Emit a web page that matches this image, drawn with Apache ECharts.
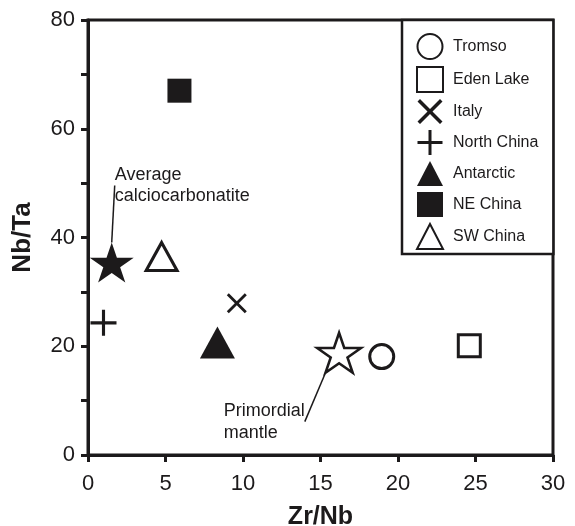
<!DOCTYPE html>
<html>
<head>
<meta charset="utf-8">
<script src="https://cdn.jsdelivr.net/npm/echarts@6/dist/echarts.min.js"></script>
<style>html,body{margin:0;padding:0;background:#fff}#c{width:575px;height:526px}</style>
</head>
<body>
<div id="c"></div>
<script>
// Data (Zr/Nb, Nb/Ta)
const tromso = [[18.95, 18.1]];
const edenLake = [[24.6, 20.1]];
const italy = [[9.6, 27.9]];
const northChina = [[1.0, 24.3]];
const antarctic = [[8.35, 20.7]];
const neChina = [[5.9, 67.0]];
const swChina = [[4.75, 36.5]];
const avgCalciocarbonatite = [[1.53, 35.4]];
const primordialMantle = [[16.2, 18.8]];
const xTicks = [0, 5, 10, 15, 20, 25, 30];
const yTicks = [0, 20, 40, 60, 80];

const INK = '#1c1a1b';
const FONT = '"Liberation Sans", Arial, Helvetica, sans-serif';
const STAR = 'path://M50,0L61.23,34.55L97.55,34.55L68.17,55.9L79.39,90.45L50,69.1L20.61,90.45L31.83,55.9L2.45,34.55L38.77,34.55Z';
const PLUS = 'path://M44,0H56V44H100V56H56V100H44V56H0V44H44Z';
const CROSS = 'path://M0,10L10,0L50,40L90,0L100,10L60,50L100,90L90,100L50,60L10,100L0,90L40,50Z';

const hollow = {color: '#fff', borderColor: INK, borderWidth: 3, opacity: 1};
const solid = {color: INK, opacity: 1};

const chart = echarts.init(document.getElementById('c'));
chart.setOption({
  animation: false,
  backgroundColor: '#fff',
  textStyle: {fontFamily: FONT, color: INK},
  grid: {left: 88, right: 22, top: 20, bottom: 71, containLabel: false, outerBoundsMode: 'none',
    show: true, borderColor: INK, borderWidth: 3, backgroundColor: 'transparent'},
  xAxis: {
    type: 'value', min: xTicks[0], max: xTicks[xTicks.length - 1], interval: 5,
    name: 'Zr/Nb', nameLocation: 'middle', nameGap: 50,
    nameTextStyle: {fontFamily: FONT, fontWeight: 'bold', fontSize: 25, color: INK},
    axisLine: {show: true, onZero: false, lineStyle: {color: INK, width: 3}},
    axisTick: {show: true, inside: false, length: 7, lineStyle: {color: INK, width: 3, opacity: 1}},
    axisLabel: {fontFamily: FONT, fontSize: 22, color: INK, margin: 18},
    splitLine: {show: false}
  },
  yAxis: {
    type: 'value', min: yTicks[0], max: yTicks[yTicks.length - 1], interval: 10,
    name: 'Nb/Ta', nameLocation: 'middle', nameGap: 52,
    nameTextStyle: {fontFamily: FONT, fontWeight: 'bold', fontSize: 26, color: INK},
    axisLine: {show: true, onZero: false, lineStyle: {color: INK, width: 3}},
    axisTick: {show: true, inside: false, length: 7, lineStyle: {color: INK, width: 3, opacity: 1}},
    axisLabel: {fontFamily: FONT, fontSize: 22, color: INK, margin: 13,
      formatter: v => (yTicks.indexOf(v) >= 0 ? String(v) : '')},
    splitLine: {show: false}
  },
  legend: {
    orient: 'vertical', left: 402, top: 20,
    padding: [13, 15, 4, 14],
    itemWidth: 26, itemHeight: 25, itemGap: 6,
    borderColor: INK, borderWidth: 2.5, backgroundColor: '#fff',
    textStyle: {fontFamily: FONT, fontSize: 16, color: INK, padding: [0, 0, 0, 5]},
    data: ['Tromso', 'Eden Lake', 'Italy', 'North China', 'Antarctic', 'NE China', 'SW China']
  },
  series: [
    {name: 'Tromso', type: 'scatter', data: tromso, symbol: 'circle', symbolSize: 24, itemStyle: hollow},
    {name: 'Eden Lake', type: 'scatter', data: edenLake, symbol: 'rect', symbolSize: 22, itemStyle: hollow},
    {name: 'Italy', type: 'scatter', data: italy, symbol: CROSS, symbolSize: 20, itemStyle: solid},
    {name: 'North China', type: 'scatter', data: northChina, symbol: PLUS, symbolSize: 26, itemStyle: solid},
    {name: 'Antarctic', type: 'scatter', data: antarctic, symbol: 'triangle', symbolSize: [35, 32], itemStyle: solid},
    {name: 'NE China', type: 'scatter', data: neChina, symbol: 'rect', symbolSize: 24, itemStyle: solid},
    {name: 'SW China', type: 'scatter', data: swChina, symbol: 'triangle', symbolSize: [31, 28], itemStyle: hollow},
    {name: 'Average calciocarbonatite', type: 'scatter', data: avgCalciocarbonatite, symbol: STAR, symbolSize: [44, 40], itemStyle: solid,
      label: {show: true, formatter: 'Average\ncalciocarbonatite', position: [25, -78], align: 'left', verticalAlign: 'top',
        fontFamily: FONT, fontSize: 18, lineHeight: 21, color: INK, opacity: 1},
      labelLine: {show: true, lineStyle: {color: INK, width: 1.5, opacity: 1}}
    },
    {name: 'Primordial mantle', type: 'scatter', data: primordialMantle, symbol: STAR, symbolSize: [44, 40], itemStyle: {color: '#fff', borderColor: INK, borderWidth: 2.5, opacity: 1},
      label: {show: true, formatter: 'Primordial\nmantle', position: [-92, 68], align: 'left', verticalAlign: 'top',
        fontFamily: FONT, fontSize: 18, lineHeight: 22, color: INK, opacity: 1},
      labelLine: {show: true, lineStyle: {color: INK, width: 1.5, opacity: 1}}
    }
  ]
});
</script>
</body>
</html>
